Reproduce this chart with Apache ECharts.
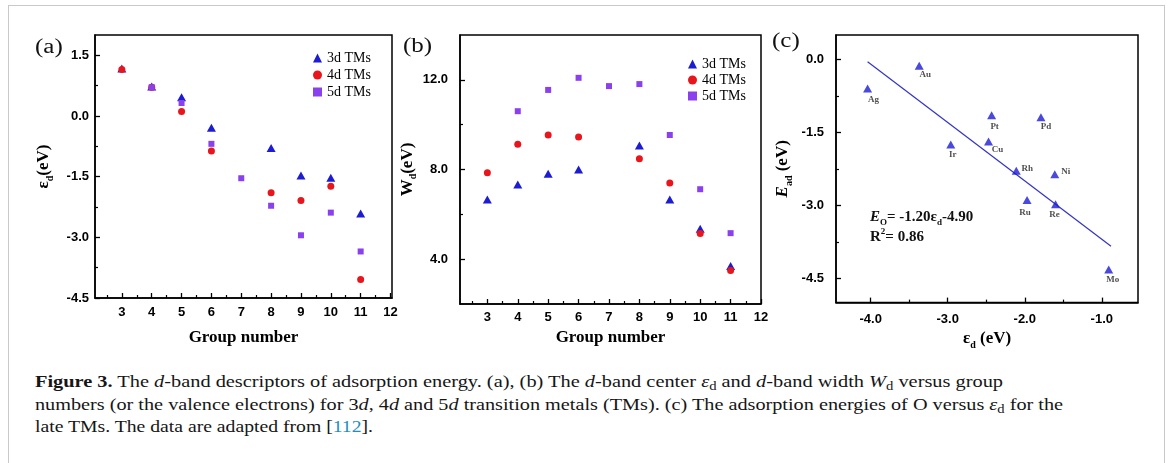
<!DOCTYPE html>
<html><head><meta charset="utf-8">
<script src="https://cdn.jsdelivr.net/npm/echarts@6/dist/echarts.min.js"></script>
<style>
html,body{margin:0;padding:0;background:#fff;width:1168px;height:463px;overflow:hidden;}
#frame{position:absolute;left:8px;top:5px;width:1157px;height:480px;border:1px solid #c9c9c9;box-sizing:border-box;}
#chart{position:absolute;left:0;top:0;width:1168px;height:355px;}
#cap{position:absolute;left:35px;top:370px;font-family:'Liberation Serif','Times New Roman',serif;font-size:17.5px;color:#161616;white-space:nowrap;}
#cap div{height:22.5px;line-height:22.5px;}
#cap span.ln{display:inline-block;transform-origin:0 50%;}
#cap sub{font-size:0.72em;vertical-align:-0.25em;line-height:0;}
#cap .l{color:#1f8ec4;}
</style></head>
<body>
<div id="frame"></div>
<div id="chart"></div>
<div id="cap">
<div><span class="ln" data-w="968"><b>Figure 3.</b> The <i>d</i>-band descriptors of adsorption energy. (a), (b) The <i>d</i>-band center <i>ε</i><sub>d</sub> and <i>d</i>-band width <i>W</i><sub>d</sub> versus group</span></div>
<div><span class="ln" data-w="1028">numbers (or the valence electrons) for 3<i>d</i>, 4<i>d</i> and 5<i>d</i> transition metals (TMs). (c) The adsorption energies of O versus <i>ε</i><sub>d</sub> for the</span></div>
<div><span class="ln" data-w="338">late TMs. The data are adapted from [<span class="l">112</span>].</span></div>
</div>
<script>
// ---------- data ----------
const groups = [3, 4, 5, 6, 7, 8, 9, 10, 11];
// (a) d-band centre (eV)
const edA_3d = [1.17, 0.73, 0.46, -0.29, null, -0.79, -1.47, -1.53, -2.41];
const edA_4d = [1.15, 0.71, 0.11, -0.87, null, -1.90, -2.09, -1.74, -4.04];
const edA_5d = [null, 0.71, 0.32, -0.69, -1.54, -2.22, -2.95, -2.39, -3.35];
// (b) d-band width (eV)
const wdB_3d = [6.66, 7.33, 7.81, 8.00, null, 9.07, 6.66, 5.36, 3.70];
const wdB_4d = [7.85, 9.13, 9.54, 9.45, null, 8.48, 7.40, 5.15, 3.49];
const wdB_5d = [null, 10.60, 11.55, 12.09, 11.72, 11.81, 9.54, 7.12, 5.16];
// (c) O adsorption energy vs d-band centre
const metals = ['Ag', 'Au', 'Pt', 'Pd', 'Ir', 'Cu', 'Rh', 'Ni', 'Ru', 'Re', 'Mo'];
const edC = [-4.04, -3.37, -2.43, -1.79, -2.96, -2.47, -2.11, -1.61, -1.97, -1.60, -0.91];
const eadC = [-0.60, -0.13, -1.15, -1.19, -1.75, -1.69, -2.29, -2.36, -2.89, -2.98, -4.32];
const fitX = [-4.04, -0.88];
const fitY = [-0.05, -3.84];
// tick values
const groupTicks = [3, 4, 5, 6, 7, 8, 9, 10, 11, 12];
const groupMinor = [2.5, 3.5, 4.5, 5.5, 6.5, 7.5, 8.5, 9.5, 10.5, 11.5];
const edTicksA = [-4.5, -3.0, -1.5, 0.0, 1.5];
const edMinorA = [-3.75, -2.25, -0.75, 0.75];
const wdTicks = [4, 8, 12];
const wdMinor = [6, 10];
const edTicksC = [-4, -3, -2, -1];
const edMinorC = [-3.5, -2.5, -1.5];
const eadTicks = [-4.5, -3.0, -1.5, 0.0];
const eadMinor = [-3.75, -2.25, -0.75];

// ---------- styles ----------
const SERIF = "'Liberation Serif','Times New Roman',serif";
const SANS = "'Liberation Sans',Arial,sans-serif";
const C3 = '#1c1cd2', C4 = '#e8161c', C5 = '#8a40ec', CFIT = '#3333c4';
const labelOffsets = { Ag: [6, 11], Au: [6, 9], Pt: [3, 11], Pd: [5, 9], Ir: [2, 10], Cu: [9, 8],
  Rh: [11, -2], Ni: [11, -2], Ru: [-2, 13], Re: [-1, 10], Mo: [4, 10] };

function pairs(xs, ys) { return xs.map((x, i) => ys[i] == null ? null : [x, ys[i]]).filter(Boolean); }
const f1 = v => Number(v).toFixed(1);
const f0 = v => String(Math.round(v));

const nameRich = {
  a: { fontFamily: SERIF, fontWeight: 'bold', fontSize: 17, lineHeight: 22, verticalAlign: 'middle' },
  i: { fontFamily: SERIF, fontWeight: 'bold', fontStyle: 'italic', fontSize: 17, lineHeight: 22, verticalAlign: 'middle' },
  s: { fontFamily: SERIF, fontWeight: 'bold', fontSize: 10, lineHeight: 14, verticalAlign: 'bottom' }
};

function mainAxis(g, pos, o) {
  return {
    type: 'value', gridIndex: g, position: pos, min: o.min, max: o.max,
    axisLine: { show: true, onZero: false, lineStyle: { color: '#000', width: 1.5 } },
    axisTick: { show: true, inside: true, length: 5, customValues: o.major, lineStyle: { color: '#000', width: 1.3 } },
    axisLabel: { show: true, customValues: o.major, formatter: o.fmt, margin: o.margin,
      fontFamily: SANS, fontWeight: 'bold', fontSize: 13, color: '#000' },
    splitLine: { show: false },
    name: o.name, nameLocation: 'middle', nameGap: o.nameGap,
    nameTextStyle: { fontFamily: SERIF, fontWeight: 'bold', fontSize: 17, color: '#000', rich: nameRich }
  };
}
function minorAxis(g, pos, o) {
  return {
    type: 'value', gridIndex: g, position: pos, min: o.min, max: o.max,
    axisLine: { show: false, onZero: false },
    axisTick: { show: true, inside: true, length: 3, customValues: o.minor, lineStyle: { color: '#000', width: 1.2 } },
    axisLabel: { show: false }, splitLine: { show: false }
  };
}
const xAxis = [], yAxis = [];
function addAxes(g, xo, yo) {
  xAxis.push(mainAxis(g, 'bottom', xo), minorAxis(g, 'bottom', xo));
  yAxis.push(mainAxis(g, 'left', yo), minorAxis(g, 'left', yo));
}
addAxes(0,
  { min: 2.1, max: 12.05, major: groupTicks, minor: groupMinor, fmt: f0, margin: 8, name: 'Group number', nameGap: 31 },
  { min: -4.5, max: 2.0, major: edTicksA, minor: edMinorA, fmt: f1, margin: 6, name: '{a|ε}{s|d}{a|(eV)}', nameGap: 40 });
addAxes(1,
  { min: 2.1, max: 12.0, major: groupTicks, minor: groupMinor, fmt: f0, margin: 7, name: 'Group number', nameGap: 24 },
  { min: 2.0, max: 14.0, major: wdTicks, minor: wdMinor, fmt: f1, margin: 12, name: '{a|W}{s|d}{a|(eV)}', nameGap: 36 });
addAxes(2,
  { min: -4.45, max: -0.53, major: edTicksC, minor: edMinorC, fmt: f1, margin: 10, name: '{a|ε}{s|d}{a| (eV)}', nameGap: 24 },
  { min: -5.0, max: 0.5, major: eadTicks, minor: eadMinor, fmt: f1, margin: 12, name: '{i|E}{s|ad}{a| (eV)}', nameGap: 42 });

const grid = [
  { left: 95, top: 35, width: 297, height: 263 },
  { left: 460, top: 35, width: 301, height: 269 },
  { left: 836, top: 35, width: 302, height: 269 }
].map(g => Object.assign(g, { show: true, borderColor: '#000', borderWidth: 1.5, backgroundColor: 'transparent', containLabel: false }));

function scat(name, xs, ys, ax, symbol, size, color) {
  return { type: 'scatter', name, xAxisIndex: ax, yAxisIndex: ax, data: pairs(xs, ys),
    symbol, symbolSize: size, itemStyle: { color, opacity: 1 }, emphasis: { disabled: true } };
}
const series = [
  scat('3d TMs', groups, edA_3d, 0, 'triangle', [9, 8], C3),
  scat('4d TMs', groups, edA_4d, 0, 'circle', 7, C4),
  scat('5d TMs', groups, edA_5d, 0, 'rect', 6, C5),
  scat('3d TMs', groups, wdB_3d, 2, 'triangle', [9, 8], C3),
  scat('4d TMs', groups, wdB_4d, 2, 'circle', 7, C4),
  scat('5d TMs', groups, wdB_5d, 2, 'rect', 6, C5),
  { type: 'line', name: 'fit', xAxisIndex: 4, yAxisIndex: 4, data: pairs(fitX, fitY), symbol: 'none',
    lineStyle: { color: CFIT, width: 1.2 }, z: 1, silent: true },
  { type: 'scatter', name: 'Eads', xAxisIndex: 4, yAxisIndex: 4, symbol: 'triangle', symbolSize: [9, 8],
    itemStyle: { color: C3 }, z: 3,
    data: metals.map((m, i) => ({ name: m, value: [edC[i], eadC[i]],
      label: { show: true, formatter: m, position: 'inside', offset: labelOffsets[m],
        fontFamily: SERIF, fontWeight: 'bold', fontSize: 9, color: '#222' } })) }
];

const legendBase = { orient: 'vertical', itemWidth: 9, itemHeight: 9, itemGap: 3,
  data: ['3d TMs', '4d TMs', '5d TMs'], selectedMode: false,
  textStyle: { fontFamily: SERIF, fontSize: 14, color: '#000', lineHeight: 14 } };
const legend = [
  Object.assign({}, legendBase, { left: 308, top: 46 }),
  Object.assign({}, legendBase, { left: 683, top: 52, itemGap: 2 })
];

const eqRich = {
  i: { fontFamily: SERIF, fontWeight: 'bold', fontStyle: 'italic', fontSize: 15, lineHeight: 20, verticalAlign: 'middle' },
  b: { fontFamily: SERIF, fontWeight: 'bold', fontSize: 15, lineHeight: 20, verticalAlign: 'middle' },
  s: { fontFamily: SERIF, fontWeight: 'bold', fontSize: 9, lineHeight: 13, verticalAlign: 'bottom' },
  p: { fontFamily: SERIF, fontWeight: 'bold', fontSize: 9, lineHeight: 13, verticalAlign: 'top' }
};
const panelText = (t, x, y) => ({ type: 'text', x, y, scaleX: 1.25,
  style: { text: t, fontFamily: SERIF, fontSize: 20, fill: '#111', verticalAlign: 'middle' } });
const graphic = [
  panelText('(a)', 35, 48),
  panelText('(b)', 403, 47),
  panelText('(c)', 772, 42),
  { type: 'text', x: 870, y: 207, style: { text: '{i|E}{s|O}{b|= -1.20ε}{s|d}{b|-4.90}\n{b|R}{p|2}{b|= 0.86}',
    rich: eqRich, fill: '#111' } }
];

const chart = echarts.init(document.getElementById('chart'), null, { renderer: 'canvas' });
chart.setOption({ animation: false, backgroundColor: 'transparent', grid, xAxis, yAxis, series, legend, graphic, tooltip: { show: false } });

// stretch caption lines to the measured widths of the original typesetting
document.querySelectorAll('#cap span.ln').forEach(el => {
  const w = el.getBoundingClientRect().width;
  const target = Number(el.dataset.w);
  if (w > 0) el.style.transform = 'scaleX(' + (target / w).toFixed(4) + ')';
});
</script>
</body></html>
